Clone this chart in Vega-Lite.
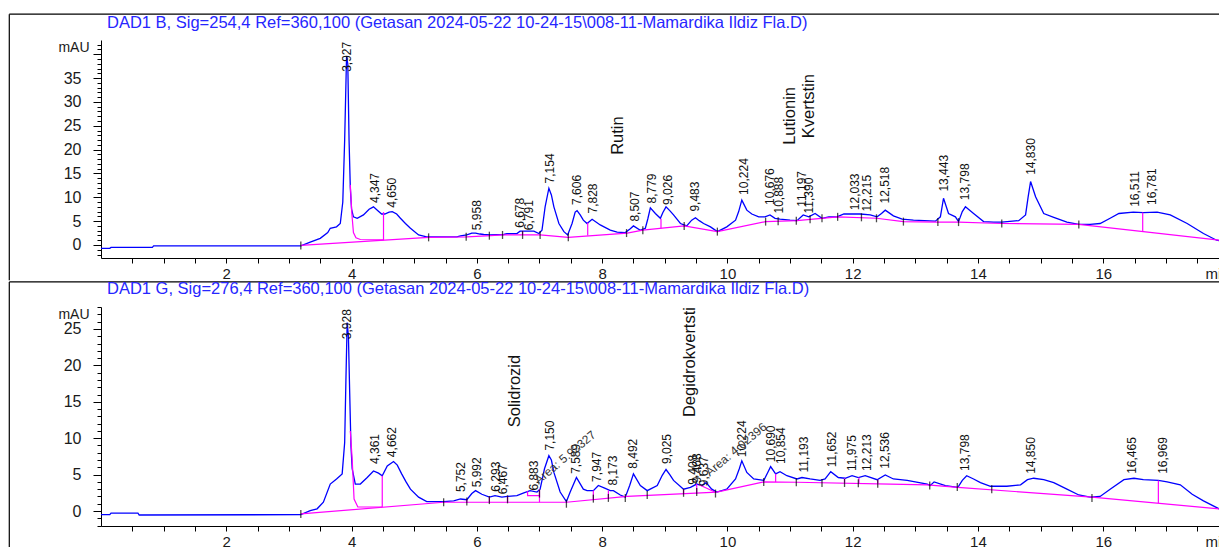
{
"$schema":"https://vega.github.io/schema/vega-lite/v6.json",
"padding":{"left":8,"top":13,"right":0,"bottom":0},
"autosize":{"type":"pad"},
"spacing":0,
"background":"#ffffff",
"config":{"view":{"stroke":null},"font":"Liberation Sans",
 "axis":{"grid":false,"domainColor":"#000","tickColor":"#000","labelColor":"#1a1a1a","titleColor":"#1a1a1a","labelFont":"Liberation Sans","titleFont":"Liberation Sans","labelFontSize":16,"titleFontSize":14,"titleFontWeight":"normal","labelOverlap":false,"labelFlush":false,"labelBound":false,"domainWidth":1,"tickWidth":1}},
"datasets":{
"top_trace":[{"t":0,"v":-0.7},{"t":0.14,"v":-0.7},{"t":0.16,"v":-0.5},{"t":0.82,"v":-0.5},{"t":0.84,"v":-0.2},{"t":3.19,"v":-0.2},{"t":3.34,"v":0.6},{"t":3.5,"v":1.4},{"t":3.62,"v":2.6},{"t":3.66,"v":3.5},{"t":3.76,"v":3.8},{"t":3.82,"v":4.5},{"t":3.86,"v":9},{"t":3.89,"v":22},{"t":3.92,"v":39.5},{"t":3.94,"v":38},{"t":3.96,"v":22},{"t":3.98,"v":12},{"t":4.0,"v":7.5},{"t":4.03,"v":5.9},{"t":4.09,"v":5.6},{"t":4.19,"v":6.3},{"t":4.28,"v":7.5},{"t":4.35,"v":8.0},{"t":4.42,"v":7.2},{"t":4.48,"v":6.5},{"t":4.53,"v":6.5},{"t":4.6,"v":6.9},{"t":4.65,"v":7.0},{"t":4.72,"v":6.5},{"t":4.78,"v":5.6},{"t":4.86,"v":4.5},{"t":4.94,"v":3.5},{"t":5.07,"v":2.1},{"t":5.2,"v":1.7},{"t":5.68,"v":1.7},{"t":5.74,"v":1.9},{"t":5.84,"v":2.1},{"t":5.92,"v":2.5},{"t":5.98,"v":2.5},{"t":6.05,"v":2.3},{"t":6.11,"v":2.2},{"t":6.21,"v":2.1},{"t":6.43,"v":2.2},{"t":6.48,"v":2.4},{"t":6.64,"v":2.4},{"t":6.69,"v":2.9},{"t":6.91,"v":2.9},{"t":6.99,"v":2.4},{"t":7.04,"v":3.1},{"t":7.09,"v":8.0},{"t":7.15,"v":11.9},{"t":7.19,"v":10.5},{"t":7.23,"v":8.0},{"t":7.31,"v":4.5},{"t":7.39,"v":2.8},{"t":7.45,"v":2.1},{"t":7.52,"v":4.5},{"t":7.57,"v":6.9},{"t":7.6,"v":7.2},{"t":7.65,"v":6.3},{"t":7.7,"v":5.2},{"t":7.76,"v":4.5},{"t":7.84,"v":5.4},{"t":7.97,"v":4.2},{"t":8.13,"v":3.1},{"t":8.24,"v":2.7},{"t":8.37,"v":2.6},{"t":8.45,"v":3.4},{"t":8.5,"v":4.0},{"t":8.61,"v":3.1},{"t":8.69,"v":3.5},{"t":8.73,"v":5.5},{"t":8.77,"v":7.8},{"t":8.85,"v":6.6},{"t":8.93,"v":5.6},{"t":8.97,"v":6.8},{"t":9.02,"v":8.0},{"t":9.08,"v":7.2},{"t":9.14,"v":6.3},{"t":9.25,"v":4.5},{"t":9.35,"v":4.0},{"t":9.43,"v":5.2},{"t":9.49,"v":5.7},{"t":9.55,"v":5.1},{"t":9.62,"v":4.5},{"t":9.73,"v":3.8},{"t":9.84,"v":2.8},{"t":9.99,"v":3.8},{"t":10.13,"v":5.2},{"t":10.18,"v":7.0},{"t":10.23,"v":9.4},{"t":10.31,"v":7.3},{"t":10.39,"v":6.5},{"t":10.5,"v":5.9},{"t":10.6,"v":5.9},{"t":10.68,"v":6.3},{"t":10.76,"v":5.6},{"t":10.84,"v":5.4},{"t":11.0,"v":5.2},{"t":11.11,"v":5.1},{"t":11.21,"v":6.3},{"t":11.3,"v":5.9},{"t":11.4,"v":6.6},{"t":11.51,"v":5.6},{"t":11.62,"v":5.9},{"t":11.75,"v":5.9},{"t":11.86,"v":6.5},{"t":12.12,"v":6.5},{"t":12.28,"v":6.3},{"t":12.39,"v":5.9},{"t":12.46,"v":6.6},{"t":12.52,"v":7.3},{"t":12.65,"v":6.1},{"t":12.79,"v":5.4},{"t":12.97,"v":5.2},{"t":13.32,"v":5.0},{"t":13.4,"v":5.9},{"t":13.45,"v":9.8},{"t":13.53,"v":6.6},{"t":13.64,"v":5.9},{"t":13.69,"v":4.9},{"t":13.75,"v":7.0},{"t":13.8,"v":8.0},{"t":13.93,"v":6.6},{"t":14.09,"v":4.9},{"t":14.25,"v":4.8},{"t":14.38,"v":4.8},{"t":14.65,"v":5.1},{"t":14.76,"v":6.3},{"t":14.8,"v":10},{"t":14.84,"v":13.3},{"t":14.92,"v":10.1},{"t":15.05,"v":6.6},{"t":15.21,"v":5.8},{"t":15.42,"v":4.8},{"t":15.61,"v":4.3},{"t":15.79,"v":4.3},{"t":15.95,"v":4.5},{"t":16.11,"v":5.6},{"t":16.25,"v":6.6},{"t":16.48,"v":6.9},{"t":16.64,"v":6.8},{"t":16.86,"v":6.9},{"t":17.07,"v":6.3},{"t":17.34,"v":4.5},{"t":17.6,"v":2.4},{"t":17.81,"v":1.0},{"t":17.85,"v":0.9}],
"top_base":[{"seg":"a","t":3.19,"v":-0.1},{"seg":"a","t":5.23,"v":1.6},{"seg":"a","t":5.84,"v":1.7},{"seg":"a","t":6.22,"v":1.95},{"seg":"a","t":6.4,"v":2.1},{"seg":"a","t":7.01,"v":2.1},{"seg":"a","t":7.46,"v":1.6},{"seg":"a","t":8.4,"v":2.5},{"seg":"a","t":8.65,"v":3.1},{"seg":"a","t":9.31,"v":4.0},{"seg":"a","t":9.84,"v":2.8},{"seg":"a","t":10.61,"v":4.9},{"seg":"a","t":11.11,"v":5.1},{"seg":"a","t":11.76,"v":5.9},{"seg":"a","t":12.38,"v":5.6},{"seg":"a","t":12.81,"v":4.9},{"seg":"a","t":13.36,"v":4.8},{"seg":"a","t":13.69,"v":4.8},{"seg":"a","t":14.38,"v":4.5},{"seg":"a","t":15.61,"v":4.3},{"seg":"a","t":16.64,"v":2.8},{"seg":"a","t":17.85,"v":1.0},
{"seg":"b","t":3.98,"v":12.6},{"seg":"b","t":4.005,"v":6.5},{"seg":"b","t":4.03,"v":2.6},{"seg":"b","t":4.07,"v":1.5},{"seg":"b","t":4.14,"v":1.15},{"seg":"b","t":4.51,"v":1.05},
{"seg":"c","t":4.51,"v":6.9},{"seg":"c","t":4.51,"v":1.0},
{"seg":"d","t":7.77,"v":4.7},{"seg":"d","t":7.77,"v":2.0},
{"seg":"e","t":8.94,"v":5.5},{"seg":"e","t":8.94,"v":3.5},
{"seg":"f","t":16.63,"v":6.8},{"seg":"f","t":16.63,"v":2.8},
{"seg":"g","t":6.73,"v":2.9},{"seg":"g","t":6.73,"v":2.1}],
"top_ticks":[{"t":3.19,"v":-0.1},{"t":5.23,"v":1.6},{"t":5.83,"v":1.7},{"t":6.2,"v":1.95},{"t":6.41,"v":2.1},{"t":6.73,"v":2.1},{"t":7.01,"v":2.1},{"t":7.46,"v":1.6},{"t":8.39,"v":2.5},{"t":8.65,"v":3.1},{"t":9.31,"v":4.0},{"t":9.84,"v":2.8},{"t":10.61,"v":4.9},{"t":10.81,"v":5.0},{"t":11.1,"v":5.1},{"t":11.32,"v":5.4},{"t":11.51,"v":5.6},{"t":11.76,"v":5.9},{"t":12.14,"v":5.8},{"t":12.38,"v":5.6},{"t":12.81,"v":4.9},{"t":13.36,"v":4.8},{"t":13.69,"v":4.8},{"t":14.38,"v":4.5},{"t":15.61,"v":4.3}],
"top_labels":[{"label":"3,927","t":3.93,"v":36.3},{"label":"4,347","t":4.38,"v":8.8},{"label":"4,650","t":4.64,"v":7.8},{"label":"5,958","t":6.0,"v":3.1},{"label":"6,678","t":6.69,"v":3.6},{"label":"6,791","t":6.83,"v":3.1},{"label":"7,154","t":7.16,"v":12.9},{"label":"7,606","t":7.6,"v":8.4},{"label":"7,828","t":7.85,"v":6.6},{"label":"8,507","t":8.53,"v":4.9},{"label":"8,779","t":8.8,"v":8.7},{"label":"9,026","t":9.05,"v":8.4},{"label":"9,483","t":9.49,"v":7.0},{"label":"10,224","t":10.26,"v":10.5},{"label":"10,676","t":10.68,"v":8.4},{"label":"10,888","t":10.82,"v":6.6},{"label":"11,197","t":11.19,"v":8.0},{"label":"11,390","t":11.31,"v":6.6},{"label":"12,033","t":12.04,"v":7.3},{"label":"12,215","t":12.23,"v":7.0},{"label":"12,518","t":12.52,"v":8.7},{"label":"13,443","t":13.45,"v":11.2},{"label":"13,798","t":13.8,"v":9.4},{"label":"14,830","t":14.84,"v":14.7},{"label":"16,511","t":16.51,"v":8.0},{"label":"16,781","t":16.78,"v":8.4}],
"top_names":[{"name":"Rutin","t":8.26,"v":18.9},{"name":"Lutionin","t":11.0,"v":21.0},{"name":"Kvertstin","t":11.3,"v":22.4}],
"bot_trace":[{"t":0,"v":-0.5},{"t":0.14,"v":-0.5},{"t":0.16,"v":-0.3},{"t":0.59,"v":-0.3},{"t":0.61,"v":-0.55},{"t":3.19,"v":-0.5},{"t":3.34,"v":0.05},{"t":3.45,"v":0.3},{"t":3.55,"v":1.2},{"t":3.66,"v":3.7},{"t":3.76,"v":4.4},{"t":3.85,"v":5.1},{"t":3.89,"v":9.4},{"t":3.91,"v":18},{"t":3.93,"v":25.9},{"t":3.95,"v":24},{"t":3.97,"v":16.3},{"t":3.99,"v":9},{"t":4.01,"v":5.8},{"t":4.06,"v":3.7},{"t":4.14,"v":3.7},{"t":4.25,"v":4.6},{"t":4.35,"v":5.5},{"t":4.43,"v":5.2},{"t":4.49,"v":4.85},{"t":4.57,"v":6.2},{"t":4.67,"v":6.8},{"t":4.73,"v":6.3},{"t":4.8,"v":5.1},{"t":4.87,"v":4.0},{"t":4.94,"v":3.0},{"t":5.07,"v":1.9},{"t":5.2,"v":1.3},{"t":5.47,"v":1.3},{"t":5.63,"v":1.4},{"t":5.74,"v":1.65},{"t":5.84,"v":1.55},{"t":5.92,"v":2.4},{"t":5.98,"v":2.8},{"t":6.08,"v":2.3},{"t":6.2,"v":1.9},{"t":6.29,"v":2.1},{"t":6.4,"v":1.9},{"t":6.49,"v":2.0},{"t":6.64,"v":2.1},{"t":6.75,"v":2.5},{"t":6.85,"v":2.8},{"t":6.96,"v":2.6},{"t":7.01,"v":3.0},{"t":7.08,"v":5.8},{"t":7.15,"v":7.6},{"t":7.19,"v":7.0},{"t":7.23,"v":5.3},{"t":7.33,"v":2.6},{"t":7.43,"v":1.3},{"t":7.49,"v":2.6},{"t":7.59,"v":4.6},{"t":7.7,"v":3.0},{"t":7.76,"v":2.8},{"t":7.86,"v":2.8},{"t":7.94,"v":3.5},{"t":8.05,"v":3.1},{"t":8.13,"v":2.8},{"t":8.18,"v":2.8},{"t":8.29,"v":2.2},{"t":8.37,"v":1.9},{"t":8.44,"v":3.5},{"t":8.5,"v":5.1},{"t":8.61,"v":3.5},{"t":8.72,"v":2.8},{"t":8.88,"v":3.5},{"t":8.96,"v":4.9},{"t":9.02,"v":5.7},{"t":9.08,"v":5.0},{"t":9.14,"v":4.2},{"t":9.3,"v":3.0},{"t":9.41,"v":3.25},{"t":9.51,"v":3.7},{"t":9.59,"v":3.5},{"t":9.66,"v":3.9},{"t":9.75,"v":3.0},{"t":9.83,"v":2.6},{"t":9.99,"v":3.0},{"t":10.13,"v":4.4},{"t":10.19,"v":5.8},{"t":10.23,"v":6.9},{"t":10.31,"v":5.3},{"t":10.42,"v":4.4},{"t":10.58,"v":4.2},{"t":10.65,"v":5.4},{"t":10.69,"v":6.1},{"t":10.77,"v":5.1},{"t":10.84,"v":5.4},{"t":10.95,"v":4.85},{"t":11.11,"v":4.4},{"t":11.19,"v":4.6},{"t":11.32,"v":4.4},{"t":11.48,"v":4.2},{"t":11.56,"v":4.4},{"t":11.65,"v":5.4},{"t":11.77,"v":4.6},{"t":11.88,"v":4.5},{"t":11.99,"v":4.85},{"t":12.09,"v":4.6},{"t":12.2,"v":4.85},{"t":12.39,"v":4.3},{"t":12.52,"v":4.95},{"t":12.65,"v":4.4},{"t":12.87,"v":4.2},{"t":13.19,"v":3.7},{"t":13.24,"v":3.5},{"t":13.3,"v":4.0},{"t":13.48,"v":3.5},{"t":13.68,"v":3.25},{"t":13.75,"v":4.2},{"t":13.82,"v":4.85},{"t":13.93,"v":4.4},{"t":14.04,"v":3.9},{"t":14.2,"v":3.4},{"t":14.46,"v":3.4},{"t":14.68,"v":3.6},{"t":14.79,"v":4.3},{"t":14.89,"v":4.5},{"t":15.05,"v":4.3},{"t":15.21,"v":3.9},{"t":15.42,"v":3.0},{"t":15.61,"v":2.2},{"t":15.79,"v":1.9},{"t":15.95,"v":2.0},{"t":16.11,"v":3.0},{"t":16.33,"v":4.3},{"t":16.49,"v":4.5},{"t":16.64,"v":4.3},{"t":16.88,"v":4.2},{"t":17.02,"v":4.0},{"t":17.23,"v":3.6},{"t":17.42,"v":2.3},{"t":17.6,"v":1.4},{"t":17.85,"v":0.3}],
"bot_base":[{"seg":"a","t":3.19,"v":-0.4},{"seg":"a","t":5.47,"v":1.2},{"seg":"a","t":7.43,"v":1.2},{"seg":"a","t":8.4,"v":2.0},{"seg":"a","t":9.83,"v":2.6},{"seg":"a","t":10.58,"v":4.0},{"seg":"a","t":11.11,"v":3.95},{"seg":"a","t":12.6,"v":3.7},{"seg":"a","t":13.19,"v":3.6},{"seg":"a","t":13.68,"v":3.25},{"seg":"a","t":15.82,"v":1.9},{"seg":"a","t":17.85,"v":0.3},
{"seg":"b","t":3.98,"v":11.0},{"seg":"b","t":4.01,"v":7.1},{"seg":"b","t":4.04,"v":1.65},{"seg":"b","t":4.1,"v":0.55},{"seg":"b","t":4.49,"v":0.55},
{"seg":"c","t":4.49,"v":4.85},{"seg":"c","t":4.49,"v":0.55},
{"seg":"d","t":5.84,"v":1.55},{"seg":"d","t":5.84,"v":1.1},
{"seg":"e","t":6.2,"v":1.9},{"seg":"e","t":6.2,"v":1.2},
{"seg":"f","t":6.49,"v":2.0},{"seg":"f","t":6.49,"v":1.25},
{"seg":"g","t":6.81,"v":2.7},{"seg":"g","t":6.81,"v":2.1},{"seg":"g","t":7.0,"v":2.1},
{"seg":"h","t":7.0,"v":3.0},{"seg":"h","t":7.0,"v":1.2},
{"seg":"i","t":7.86,"v":2.8},{"seg":"i","t":7.86,"v":1.55},
{"seg":"j","t":8.1,"v":2.8},{"seg":"j","t":8.1,"v":1.7},
{"seg":"k","t":9.3,"v":3.0},{"seg":"k","t":9.3,"v":2.3},
{"seg":"l","t":9.51,"v":3.7},{"seg":"l","t":9.51,"v":2.35},
{"seg":"m","t":9.55,"v":3.6},{"seg":"m","t":9.8,"v":2.6},
{"seg":"n","t":10.77,"v":5.1},{"seg":"n","t":10.77,"v":4.0},
{"seg":"o","t":11.87,"v":4.5},{"seg":"o","t":11.87,"v":3.9},
{"seg":"p","t":12.1,"v":4.6},{"seg":"p","t":12.1,"v":3.85},
{"seg":"q","t":12.4,"v":4.3},{"seg":"q","t":12.4,"v":3.8},
{"seg":"r","t":16.88,"v":4.2},{"seg":"r","t":16.88,"v":1.1}],
"bot_ticks":[{"t":3.19,"v":-0.4},{"t":5.47,"v":1.2},{"t":5.84,"v":1.3},{"t":6.2,"v":1.5},{"t":6.49,"v":1.6},{"t":7.0,"v":2.4},{"t":7.43,"v":1.0},{"t":7.86,"v":1.7},{"t":8.1,"v":1.8},{"t":8.37,"v":1.8},{"t":8.72,"v":2.2},{"t":9.3,"v":2.5},{"t":9.51,"v":2.6},{"t":9.81,"v":2.4},{"t":10.58,"v":4.0},{"t":11.1,"v":3.95},{"t":11.51,"v":3.85},{"t":11.87,"v":3.85},{"t":12.09,"v":3.8},{"t":12.4,"v":3.75},{"t":13.23,"v":3.5},{"t":13.67,"v":3.3},{"t":14.22,"v":3.0},{"t":15.82,"v":1.8}],
"bot_labels":[{"label":"3,928","t":3.93,"v":23.6},{"label":"4,361","t":4.38,"v":6.45},{"label":"4,662","t":4.65,"v":7.4},{"label":"5,752","t":5.74,"v":2.6},{"label":"5,992","t":6.0,"v":3.25},{"label":"6,293","t":6.31,"v":2.65},{"label":"6,467","t":6.41,"v":2.3},{"label":"6,883","t":6.91,"v":2.8},{"label":"7,150","t":7.17,"v":8.3},{"label":"7,589","t":7.59,"v":5.1},{"label":"7,947","t":7.92,"v":4.0},{"label":"8,173","t":8.18,"v":3.5},{"label":"8,492","t":8.5,"v":5.8},{"label":"9,025","t":9.04,"v":6.45},{"label":"9,408","t":9.45,"v":3.6},{"label":"9,468","t":9.51,"v":3.8},{"label":"9,637","t":9.62,"v":3.4},{"label":"10,224","t":10.24,"v":7.4},{"label":"10,690","t":10.69,"v":6.7},{"label":"10,854","t":10.85,"v":6.45},{"label":"11,193","t":11.22,"v":5.3},{"label":"11,652","t":11.67,"v":6.0},{"label":"11,975","t":11.99,"v":5.5},{"label":"12,213","t":12.23,"v":5.5},{"label":"12,536","t":12.52,"v":5.8},{"label":"13,798","t":13.8,"v":5.5},{"label":"14,850","t":14.84,"v":5.1},{"label":"16,465","t":16.46,"v":5.1},{"label":"16,969","t":16.96,"v":5.1}],
"bot_area":[{"label":"Area: 5.92327","t":7.02,"v":3.3},{"label":"Area: 4.02396","t":9.75,"v":4.4}],
"bot_names":[{"name":"Solidrozid","t":6.61,"v":11.5},{"name":"Degidrokvertsti","t":9.41,"v":12.9}]
},
"vconcat":[
{
"width":1118,"height":218,
"encoding":{
 "x":{"field":"t","type":"quantitative","scale":{"domain":[0,17.848],"nice":false,"zero":false},
   "axis":{"values":[0.5,1,1.5,2,2.5,3,3.5,4,4.5,5,5.5,6,6.5,7,7.5,8,8.5,9,9.5,10,10.5,11,11.5,12,12.5,13,13.5,14,14.5,15,15.5,16,16.5,17,17.5],"labelExpr":"datum.value % 2 === 0 ? '' + datum.value : ''","labelOverlap":false,"tickSize":5,"labelPadding":3,"labelFontSize":15,"title":"min","titleX":1104,"titleY":20,"titleAlign":"left","titleBaseline":"alphabetic","titleFontSize":15}},
 "y":{"field":"v","type":"quantitative","scale":{"domain":[-2.73,42.98],"nice":false,"zero":false},
   "axis":{"values":[-2,-1,0,1,2,3,4,5,6,7,8,9,10,11,12,13,14,15,16,17,18,19,20,21,22,23,24,25,26,27,28,29,30,31,32,33,34,35,36,37,38,39,40,41,42],"labelExpr":"datum.value % 5 === 0 && datum.value >= 0 && datum.value <= 35 ? datum.label : ''","labelOverlap":false,"tickSize":{"condition":{"test":"datum.value % 5 === 0","value":8},"value":4},"labelPadding":12,"title":"mAU","titleAngle":0,"titleX":-12,"titleY":11.5,"titleAlign":"right","titleBaseline":"alphabetic"}}
},
"layer":[
{"data":{"name":"top_trace"},"mark":{"type":"line","color":"#0000ff","strokeWidth":1.3},
 "encoding":{"order":{"value":null}}},
{"data":{"name":"top_base"},"mark":{"type":"line","color":"#ff00ff","strokeWidth":1.2},
 "encoding":{"detail":{"field":"seg"},"order":{"value":null}}},
{"data":{"name":"top_ticks"},"mark":{"type":"tick","orient":"vertical","size":8,"thickness":1.3,"color":"#000"},"encoding":{}},
{"data":{"name":"top_labels"},"mark":{"type":"text","angle":270,"align":"left","baseline":"middle","fontSize":12,"font":"Liberation Sans","color":"#111"},
 "encoding":{"text":{"field":"label"}}},
{"data":{"name":"top_names"},"mark":{"type":"text","angle":270,"align":"left","baseline":"middle","fontSize":16.5,"font":"Liberation Sans","color":"#111"},
 "encoding":{"text":{"field":"name"}}},
{"data":{"values":[{"t":-1.464,"t2":17.88,"v":48.4}]},"mark":{"type":"rule","color":"#000","strokeWidth":1.2},
 "encoding":{"x2":{"field":"t2"}}},
{"data":{"values":[{"t":-1.464,"v":48.4,"v2":-7.41}]},"mark":{"type":"rule","color":"#000","strokeWidth":1.2},
 "encoding":{"y2":{"field":"v2"}}},
{"data":{"values":[{"t":0,"v":45.6,"title":"DAD1 B, Sig=254,4 Ref=360,100 (Getasan 2024-05-22 10-24-15\\008-11-Mamardika Ildiz Fla.D)"}]},"mark":{"type":"text","align":"left","baseline":"alphabetic","dx":6,"fontSize":16.5,"font":"Liberation Sans","color":"#2626ff"},
 "encoding":{"text":{"field":"title"}}}
]
},
{
"width":1118,"height":219,
"encoding":{
 "x":{"field":"t","type":"quantitative","scale":{"domain":[0,17.848],"nice":false,"zero":false},
   "axis":{"values":[0.5,1,1.5,2,2.5,3,3.5,4,4.5,5,5.5,6,6.5,7,7.5,8,8.5,9,9.5,10,10.5,11,11.5,12,12.5,13,13.5,14,14.5,15,15.5,16,16.5,17,17.5],"labelExpr":"datum.value % 2 === 0 ? '' + datum.value : ''","labelOverlap":false,"tickSize":5,"labelPadding":3,"labelFontSize":15,"title":"min","titleX":1104,"titleY":20,"titleAlign":"left","titleBaseline":"alphabetic","titleFontSize":15}},
 "y":{"field":"v","type":"quantitative","scale":{"domain":[-2.06,28.02],"nice":false,"zero":false},
   "axis":{"values":[-2,-1,0,1,2,3,4,5,6,7,8,9,10,11,12,13,14,15,16,17,18,19,20,21,22,23,24,25,26,27,28],"labelExpr":"datum.value % 5 === 0 && datum.value >= 0 && datum.value <= 25 ? datum.label : ''","labelOverlap":false,"tickSize":{"condition":{"test":"datum.value % 5 === 0","value":8},"value":4},"labelPadding":12,"title":"mAU","titleAngle":0,"titleX":-12,"titleY":11.5,"titleAlign":"right","titleBaseline":"alphabetic"}}
},
"layer":[
{"data":{"name":"bot_trace"},"mark":{"type":"line","color":"#0000ff","strokeWidth":1.3},
 "encoding":{"order":{"value":null}}},
{"data":{"name":"bot_base"},"mark":{"type":"line","color":"#ff00ff","strokeWidth":1.2},
 "encoding":{"detail":{"field":"seg"},"order":{"value":null}}},
{"data":{"name":"bot_ticks"},"mark":{"type":"tick","orient":"vertical","size":8,"thickness":1.3,"color":"#000"},"encoding":{}},
{"data":{"name":"bot_labels"},"mark":{"type":"text","angle":270,"align":"left","baseline":"middle","fontSize":12,"font":"Liberation Sans","color":"#111"},
 "encoding":{"text":{"field":"label"}}},
{"data":{"name":"bot_area"},"mark":{"type":"text","angle":320,"align":"left","baseline":"bottom","fontSize":12,"font":"Liberation Sans","color":"#333"},
 "encoding":{"text":{"field":"label"}}},
{"data":{"name":"bot_names"},"mark":{"type":"text","angle":270,"align":"left","baseline":"middle","fontSize":16.5,"font":"Liberation Sans","color":"#111"},
 "encoding":{"text":{"field":"name"}}},
{"data":{"values":[{"t":-1.464,"t2":17.88,"v":31.47}]},"mark":{"type":"rule","color":"#000","strokeWidth":1.2},
 "encoding":{"x2":{"field":"t2"}}},
{"data":{"values":[{"t":-1.464,"v":31.47,"v2":-5.3}]},"mark":{"type":"rule","color":"#000","strokeWidth":1.2},
 "encoding":{"y2":{"field":"v2"}}},
{"data":{"values":[{"t":0,"v":29.74,"title":"DAD1 G, Sig=276,4 Ref=360,100 (Getasan 2024-05-22 10-24-15\\008-11-Mamardika Ildiz Fla.D)"}]},"mark":{"type":"text","align":"left","baseline":"alphabetic","dx":6,"fontSize":16.5,"font":"Liberation Sans","color":"#2626ff"},
 "encoding":{"text":{"field":"title"}}}
]
}
]
}
